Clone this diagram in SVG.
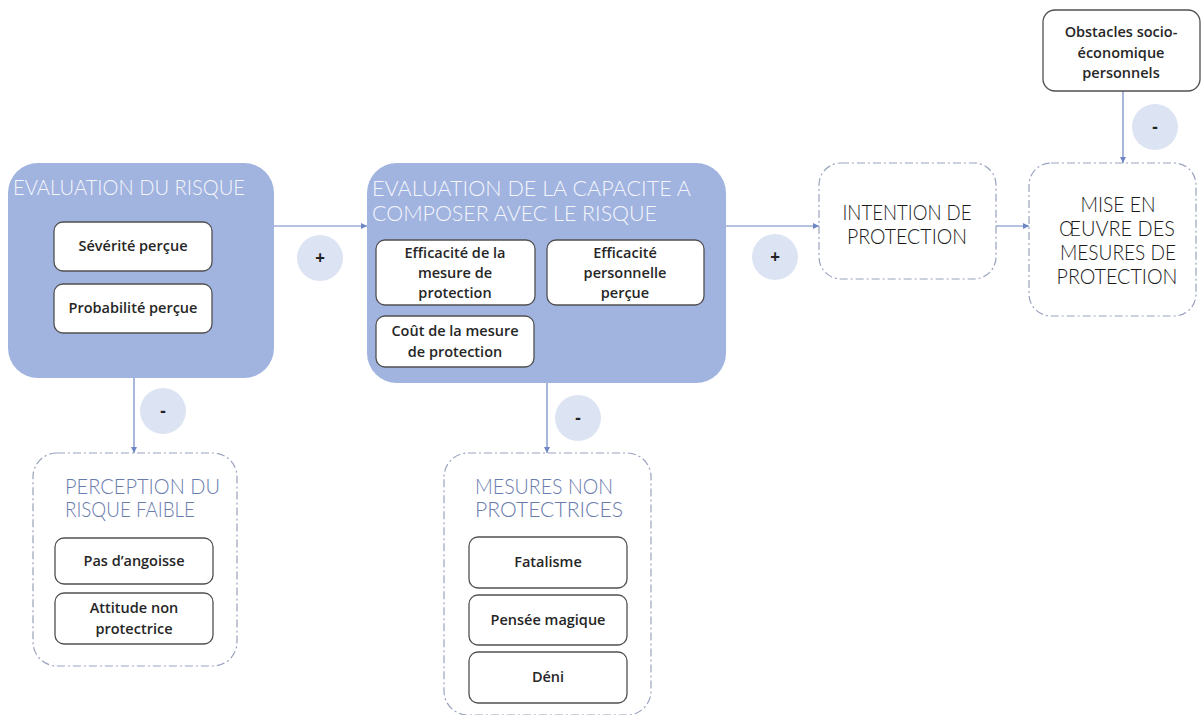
<svg xmlns="http://www.w3.org/2000/svg" width="1202" height="715" viewBox="0 0 1202 715">
<defs>
<style>
.main{fill:#a1b3df;stroke:none}
.inner{fill:#ffffff;stroke:#505050;stroke-width:1.3}
.dash{fill:#ffffff;stroke:#9aa3bf;stroke-width:1.2;stroke-dasharray:8 3 2 3}
.sign{fill:#dce3f3}
.conn{stroke:#6f86c4;stroke-width:1.2;fill:none;marker-end:url(#arr)}
.t{font-family:"Open Sans","Liberation Sans",sans-serif;font-size:14.5px;font-weight:600;fill:#262626;text-anchor:middle}
.ttl{font-family:Lato,"Liberation Sans",sans-serif;font-weight:300;font-size:21px}
.w{fill:#f4f6fc}
.b{fill:#6a7cae}
.k{fill:#1a1a1a;text-anchor:middle}
.s{font-family:"Open Sans","Liberation Sans",sans-serif;font-size:17px;font-weight:bold;fill:#222;text-anchor:middle}
</style>
<marker id="arr" viewBox="0 0 10 10" refX="10" refY="5" markerWidth="6" markerHeight="6" orient="auto" markerUnits="userSpaceOnUse">
<path d="M0,0 L10,5 L0,10 z" fill="#6f86c4"/>
</marker>
</defs>
<rect width="1202" height="715" fill="#ffffff"/>

<g id="connectors">
<line class="conn" x1="274" y1="226" x2="367" y2="226"/>
<line class="conn" x1="726" y1="226" x2="819" y2="226"/>
<line class="conn" x1="996" y1="226" x2="1029" y2="226"/>
<line class="conn" x1="1123" y1="91" x2="1123" y2="163"/>
<line class="conn" x1="134" y1="378" x2="134" y2="453"/>
<line class="conn" x1="547" y1="383" x2="547" y2="453"/>
</g>

<g id="signs">
<circle class="sign" cx="320" cy="258" r="23"/><text class="s" x="320" y="264">+</text>
<circle class="sign" cx="775" cy="257" r="23"/><text class="s" x="775" y="263">+</text>
<circle class="sign" cx="1155" cy="127" r="23"/><text class="s" x="1155" y="133">-</text>
<circle class="sign" cx="163" cy="411" r="23"/><text class="s" x="163" y="417">-</text>
<circle class="sign" cx="578" cy="418" r="23"/><text class="s" x="578" y="424">-</text>
</g>

<g id="evaluation-risque">
<rect class="main" x="8" y="163" width="266" height="215" rx="30"/>
<text class="ttl w" x="13" y="195" textLength="232" lengthAdjust="spacingAndGlyphs">EVALUATION DU RISQUE</text>
<rect class="inner" x="54" y="222" width="158" height="49" rx="9"/>
<text class="t" x="133" y="251">Sévérité perçue</text>
<rect class="inner" x="54" y="284" width="158" height="49" rx="9"/>
<text class="t" x="133" y="313">Probabilité perçue</text>
</g>

<g id="evaluation-capacite">
<rect class="main" x="367" y="163" width="359" height="220" rx="30"/>
<text class="ttl w" x="372" y="196" textLength="319" lengthAdjust="spacingAndGlyphs">EVALUATION DE LA CAPACITE A</text>
<text class="ttl w" x="372" y="221" textLength="285" lengthAdjust="spacingAndGlyphs">COMPOSER AVEC LE RISQUE</text>
<rect class="inner" x="376" y="240" width="159" height="65" rx="9"/>
<text class="t" x="455" y="258">Efficacité de la</text>
<text class="t" x="455" y="278">mesure de</text>
<text class="t" x="455" y="298">protection</text>
<rect class="inner" x="547" y="240" width="157" height="65" rx="9"/>
<text class="t" x="625" y="258">Efficacité</text>
<text class="t" x="625" y="278">personnelle</text>
<text class="t" x="625" y="298">perçue</text>
<rect class="inner" x="376" y="316" width="158" height="51" rx="9"/>
<text class="t" x="455" y="336">Coût de la mesure</text>
<text class="t" x="455" y="357">de protection</text>
</g>

<g id="intention">
<rect class="dash" x="819" y="163" width="177" height="116" rx="22"/>
<text class="ttl k" x="907" y="220" textLength="129" lengthAdjust="spacingAndGlyphs">INTENTION DE</text>
<text class="ttl k" x="907" y="244" textLength="120" lengthAdjust="spacingAndGlyphs">PROTECTION</text>
</g>

<g id="mise-en-oeuvre">
<rect class="dash" x="1029" y="163" width="167" height="153" rx="22"/>
<text class="ttl k" x="1118" y="212" textLength="75" lengthAdjust="spacingAndGlyphs">MISE EN</text>
<text class="ttl k" x="1117" y="236" textLength="116" lengthAdjust="spacingAndGlyphs">ŒUVRE DES</text>
<text class="ttl k" x="1118" y="260" textLength="116" lengthAdjust="spacingAndGlyphs">MESURES DE</text>
<text class="ttl k" x="1117" y="284" textLength="121" lengthAdjust="spacingAndGlyphs">PROTECTION</text>
</g>

<g id="obstacles">
<rect class="inner" x="1043" y="10" width="157" height="81" rx="12"/>
<text class="t" x="1121" y="37">Obstacles socio-</text>
<text class="t" x="1121" y="58">économique</text>
<text class="t" x="1121" y="78">personnels</text>
</g>

<g id="perception">
<rect class="dash" x="33" y="453" width="204" height="213" rx="24"/>
<text class="ttl b" x="65" y="494" textLength="155" lengthAdjust="spacingAndGlyphs">PERCEPTION DU</text>
<text class="ttl b" x="65" y="517" textLength="130" lengthAdjust="spacingAndGlyphs">RISQUE FAIBLE</text>
<rect class="inner" x="55" y="538" width="158" height="46" rx="9"/>
<text class="t" x="134" y="566">Pas d’angoisse</text>
<rect class="inner" x="55" y="593" width="158" height="51" rx="9"/>
<text class="t" x="134" y="613">Attitude non</text>
<text class="t" x="134" y="634">protectrice</text>
</g>

<g id="mesures-non">
<rect class="dash" x="444" y="453" width="207" height="262" rx="24"/>
<text class="ttl b" x="475" y="494" textLength="138" lengthAdjust="spacingAndGlyphs">MESURES NON</text>
<text class="ttl b" x="475" y="517" textLength="148" lengthAdjust="spacingAndGlyphs">PROTECTRICES</text>
<rect class="inner" x="469" y="537" width="158" height="51" rx="9"/>
<text class="t" x="548" y="567">Fatalisme</text>
<rect class="inner" x="469" y="595" width="158" height="50" rx="9"/>
<text class="t" x="548" y="625">Pensée magique</text>
<rect class="inner" x="469" y="652" width="158" height="51" rx="9"/>
<text class="t" x="548" y="682">Déni</text>
</g>
</svg>
